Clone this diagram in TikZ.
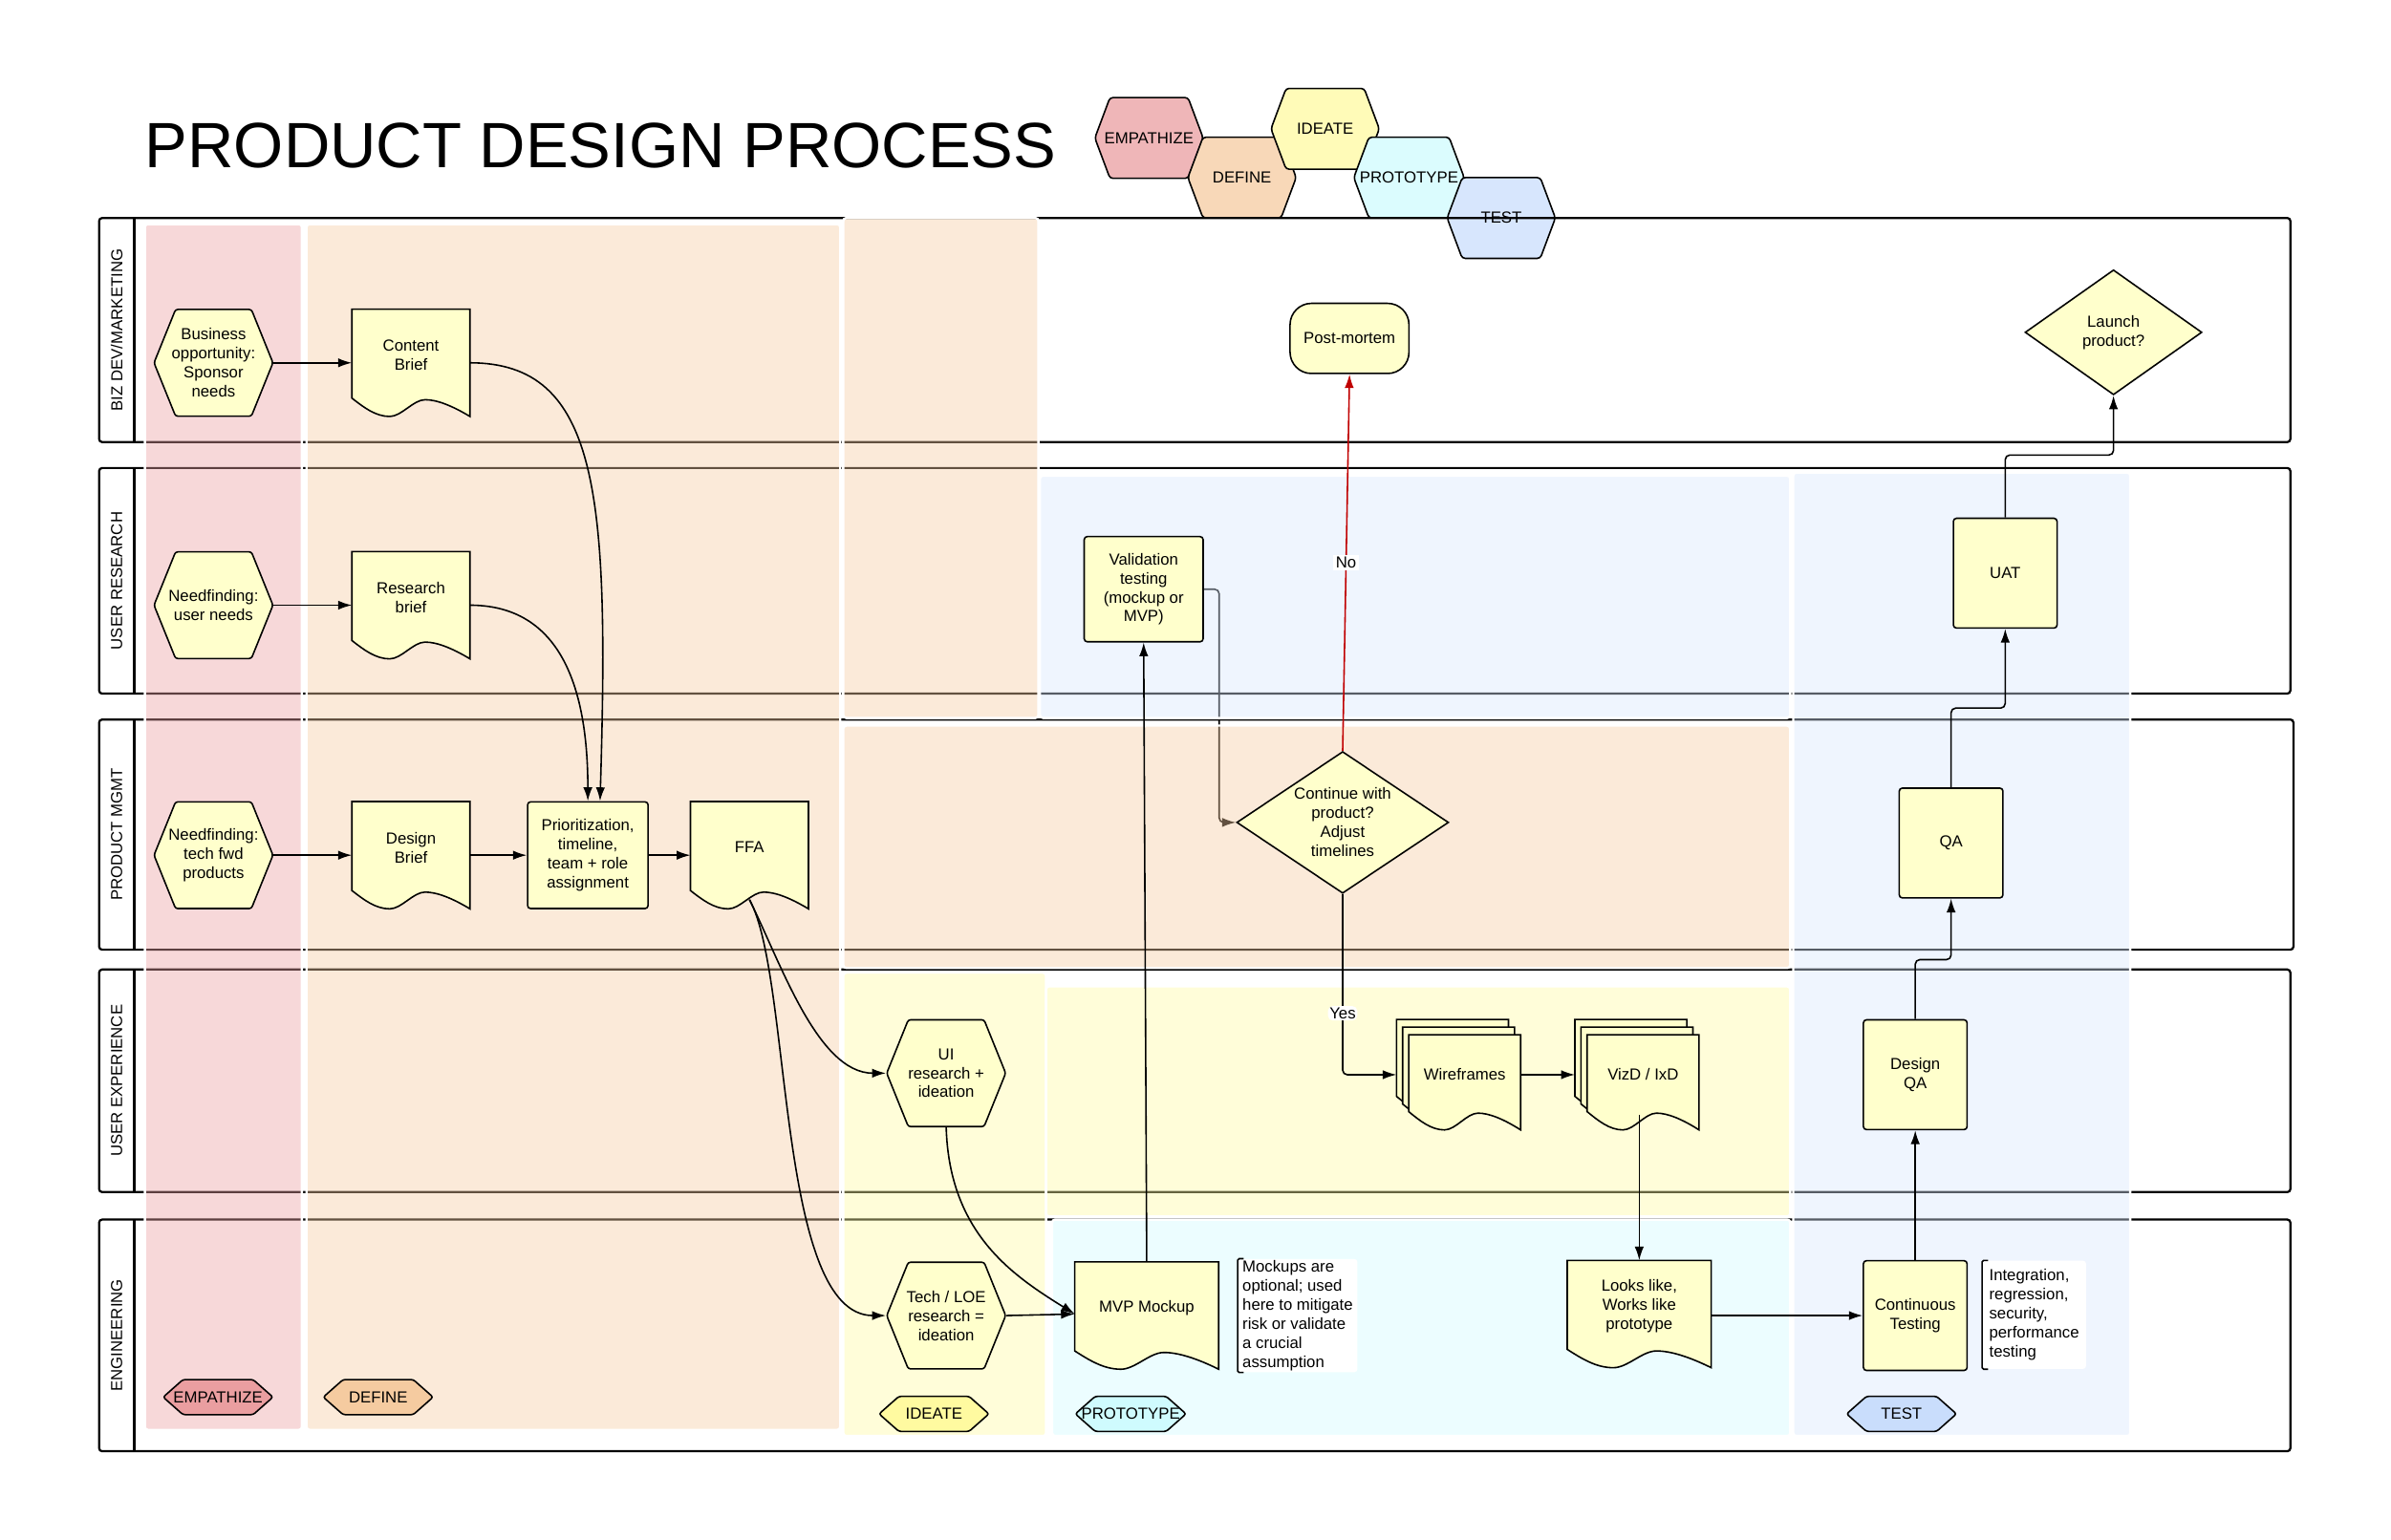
\documentclass[tikz,border=0pt]{standalone}
\usepackage{fontspec}
\setmainfont{Liberation Sans}
\usetikzlibrary{shapes.geometric,shapes.symbols,arrows.meta,calc}
\pgfdeclarelayer{legend}
\pgfdeclarelayer{lanes}
\pgfdeclarelayer{tint}
\pgfdeclarelayer{docs}
\pgfsetlayers{legend,lanes,tint,docs,main}

\definecolor{boxfill}{RGB}{255,255,204}
\definecolor{empcol}{RGB}{234,158,160}
\definecolor{defcol}{RGB}{245,203,160}
\definecolor{ideacol}{RGB}{255,250,160}
\definecolor{protocol}{RGB}{207,251,254}
\definecolor{testcol}{RGB}{201,221,252}
\definecolor{nored}{RGB}{192,0,0}

% document outline with wavy bottom (node, x offset, y offset)
\newcommand{\docpath}[3]{%
  \filldraw[docline]
    ($(#1.north west)+(#2,#3)$) -- ($(#1.north east)+(#2,#3)$) -- ($(#1.south east)+(#2,#3+10)$)
    .. controls ($(#1.south west)!0.85!(#1.south east)+(#2,#3+3)$) and ($(#1.south west)!0.72!(#1.south east)+(#2,#3-1)$) .. ($(#1.south west)!0.62!(#1.south east)+(#2,#3-1)$)
    .. controls ($(#1.south west)!0.52!(#1.south east)+(#2,#3-1)$) and ($(#1.south west)!0.42!(#1.south east)+(#2,#3+10)$) .. ($(#1.south west)!0.32!(#1.south east)+(#2,#3+10)$)
    .. controls ($(#1.south west)!0.2!(#1.south east)+(#2,#3+10)$) and ($(#1.south west)!0.1!(#1.south east)+(#2,#3+4)$) .. ($(#1.south west)+(#2,#3-2)$)
    -- cycle;}

\begin{document}
\begin{tikzpicture}[x=1pt, y=-1pt,
    every node/.style={font=\fontsize{10.5}{12.5}\selectfont, align=center, inner sep=1pt},
    procbox/.style={draw, fill=boxfill, line width=1pt, rounded corners=2, minimum width=68, minimum height=72},
    hexbox/.style={signal, signal to=east and west, signal pointer angle=136, draw, fill=boxfill, line width=1pt, rounded corners=1.5, minimum width=78, minimum height=70, inner ysep=0, inner xsep=-5},
    docbox/.style={minimum width=77, minimum height=60, inner sep=0},
    docline/.style={draw, fill=boxfill, line width=1pt},
    decision/.style={diamond, draw, fill=boxfill, line width=1pt, inner sep=0},
    endbox/.style={draw, fill=boxfill, line width=1pt, rounded corners=14, minimum width=78, minimum height=46},
    notebox/.style={fill=white, rounded corners=2, minimum width=78, minimum height=70, align=left, inner xsep=3},
    bracket/.style={line width=1pt, rounded corners=1},
    flow/.style={line width=1pt, -{Latex[length=9pt,width=6pt]}},
    legendhex/.style={signal, signal to=east and west, signal pointer angle=139, draw, line width=1pt, rounded corners=2, minimum width=71, minimum height=53, inner ysep=0, inner xsep=-6},
    phase/.style={signal, signal to=east and west, signal pointer angle=83, draw, line width=1pt, rounded corners=1.5, minimum width=72, minimum height=23, inner ysep=0, inner xsep=-9},
    lanebox/.style={line width=1.4pt, rounded corners=2},
    lanelabel/.style={rotate=90},
    phasetint/.style={draw=white, line width=1.5pt, fill opacity=0.4, rounded corners=2}]

    \useasboundingbox (0,0) rectangle (1568,1010);

    % Title and phase legend
    \node[font=\fontsize{42}{42}\selectfont, anchor=base west, inner sep=0] (title) at (95,110) {PRODUCT DESIGN PROCESS};
    \begin{pgfonlayer}{legend}
    \node[legendhex, fill=empcol!75] (legemp) at (753.5,90.5) {EMPATHIZE};
    \node[legendhex, fill=defcol!75] (legdef) at (814.5,116.5) {DEFINE};
    \node[legendhex, fill=ideacol!75] (legidea) at (869,84.5) {IDEATE};
    \node[legendhex, fill=protocol!75] (legproto) at (924,116.5) {PROTOTYPE};
    \node[legendhex, fill=testcol!75] (legtest) at (984.5,143) {TEST};
    \end{pgfonlayer}

    % Swim lanes
    \begin{pgfonlayer}{lanes}
    \foreach \ya/\yb/\xr/\lname [count=\k] in {143/290/1502/{BIZ DEV/MARKETING}, 307/455/1502/USER RESEARCH, 472/623/1504/PRODUCT MGMT, 636/782/1502/USER EXPERIENCE, 800/952/1502/ENGINEERING} {
        \draw[lanebox] (65,\ya) rectangle (\xr,\yb);
        \draw[lanebox] (88,\ya) -- (88,\yb);
        \node[lanelabel] (lane\k) at (76.5,{(\ya+\yb)/2}) {\lname};
    }
    \end{pgfonlayer}

    % Phase columns
    \begin{pgfonlayer}{tint}
    \draw[phasetint, fill=empcol] (95,147) rectangle (198,938);
    \draw[phasetint, fill=defcol] (201,147) rectangle (551,938);
    \draw[phasetint, fill=defcol] (553,143) rectangle (681,471);
    \draw[phasetint, fill=defcol] (553,476) rectangle (1174,635);
    \draw[phasetint, fill=ideacol] (553,638) rectangle (686,942);
    \draw[phasetint, fill=ideacol] (686,647) rectangle (1174,798);
    \draw[phasetint, fill=testcol!75] (682,312) rectangle (1174,471);
    \draw[phasetint, fill=protocol] (690,800) rectangle (1174,942);
    \draw[phasetint, fill=testcol!75] (1176,310) rectangle (1397,942);
    \end{pgfonlayer}

    % Biz dev / marketing
    \node[hexbox] (bizopp) at (140,238) {Business\\opportunity:\\Sponsor\\needs};
    \node[docbox] (cbrief) at (269.5,233) {Content\\Brief};
    \node[endbox] (postm) at (885,222) {Post-mortem};
    \node[decision, aspect=1.41, minimum width=116, minimum height=82] (launch) at (1386,218) {Launch\\product?};

    % User research
    \node[hexbox] (usrneed) at (140,397) {Needfinding:\\user needs};
    \node[docbox] (rbrief) at (269.5,392) {Research\\brief};
    \node[procbox, minimum width=78, minimum height=69] (valid) at (750,386.5) {Validation\\testing\\(mockup or\\MVP)};
    \node[procbox] (uat) at (1315,376) {UAT};

    % Product mgmt
    \node[hexbox] (techfwd) at (140,561) {Needfinding:\\tech fwd\\products};
    \node[docbox] (dbrief) at (269.5,556) {Design\\Brief};
    \node[procbox, minimum width=79, minimum height=70] (prio) at (385.5,561) {Prioritization,\\timeline,\\team + role\\assignment};
    \node[docbox] (ffa) at (491.5,556) {FFA};
    \node[decision, aspect=1.5, minimum width=139, minimum height=93] (cont) at (880.5,539.5) {Continue with\\product?\\Adjust\\timelines};
    \node[procbox] (qa) at (1279.5,553) {QA};

    % User experience
    \node[hexbox] (uires) at (620.5,704) {UI\\research +\\ideation};
    \node[docbox, minimum width=73, minimum height=52] (wire) at (960.5,705) {Wireframes};
    \node[docbox, minimum width=73, minimum height=52] (vizd) at (1077.5,705) {VizD / IxD};
    \node[procbox] (dqa) at (1256,705) {Design\\QA};

    % Engineering
    \node[hexbox] (techloe) at (620.5,863) {Tech / LOE\\research =\\ideation};
    \node[docbox, minimum width=94] (mvp) at (752,858) {MVP Mockup};
    \node[notebox] (mocknote) at (851,863) {Mockups are\\optional; used\\here to mitigate\\risk or validate\\a crucial\\assumption};
    \node[docbox, minimum width=94] (looks) at (1075,857) {Looks like,\\Works like\\prototype};
    \node[procbox] (ctest) at (1256,863) {Continuous\\Testing};
    \node[notebox, minimum width=68, minimum height=71] (testnote) at (1334,862.5) {Integration,\\regression,\\security,\\performance\\testing};

    % Phase tags
    \node[phase, fill=empcol] (tagemp) at (143,916.5) {EMPATHIZE};
    \node[phase, fill=defcol] (tagdef) at (248,916.5) {DEFINE};
    \node[phase, fill=ideacol] (tagidea) at (612.5,927.5) {IDEATE};
    \node[phase, fill=protocol] (tagproto) at (741.5,927.5) {PROTOTYPE};
    \node[phase, fill=testcol] (tagtest) at (1247,927.5) {TEST};

    % Document outlines
    \begin{pgfonlayer}{docs}
    \foreach \d in {cbrief,rbrief,dbrief,ffa,mvp,looks} {\docpath{\d}{0}{0}}
    \foreach \d in {wire,vizd} {\docpath{\d}{-8}{-10} \docpath{\d}{-4}{-5} \docpath{\d}{0}{0}}
    \end{pgfonlayer}

    % Note brackets
    \draw[bracket] ([xshift=4]mocknote.north west) -- (mocknote.north west) -- (mocknote.south west) -- ([xshift=4]mocknote.south west);
    \draw[bracket] ([xshift=4]testnote.north west) -- (testnote.north west) -- (testnote.south west) -- ([xshift=4]testnote.south west);

    % Empathize / define flow
    \draw[flow] (bizopp.east) -- (bizopp.east -| cbrief.west);
    \draw[flow] (usrneed.east) -- (usrneed.east -| rbrief.west);
    \draw[flow] (techfwd.east) -- (techfwd.east -| dbrief.west);
    \draw[flow] ([yshift=-5]cbrief.east) .. controls +(85,0) and +(6,-200) .. ([xshift=8]prio.north);
    \draw[flow] ([yshift=-5]rbrief.east) .. controls +(50,0) and +(0,-90) .. (prio.north);
    \draw[flow] (prio.west -| dbrief.east) -- (prio.west);
    \draw[flow] (prio.east) -- (prio.east -| ffa.west);

    % Ideate flow
    \draw[flow] ([yshift=-4]ffa.south) .. controls +(20,40) and +(-45,0) .. (uires.west);
    \draw[flow] ([yshift=-4]ffa.south) .. controls +(28,50) and +(-72,0) .. (techloe.west);
    \draw[flow] (uires.south) .. controls +(2,70) and +(-40,-25) .. ([yshift=-4]mvp.west);
    \draw[flow] (techloe.east) -- ([yshift=-4]mvp.west);

    % Prototype flow
    \draw[flow] (mvp.north) -- (valid.south);
    \begin{pgfonlayer}{lanes}
    \draw[flow, rounded corners=3] (valid.east) -- ++(10,0) |- (cont.west);
    \end{pgfonlayer}
    \draw[flow, draw=nored] (cont.north) -- node[pos=0.5, fill=white, inner sep=1.5] (nolbl) {No} (postm.south);
    \draw[flow, rounded corners=3] (cont.south) |- node[pos=0.33, fill=white, inner sep=1] (yeslbl) {Yes} ([xshift=-8]wire.west);
    \draw[flow] (wire.east) -- ([xshift=-8]vizd.west);
    \draw[flow] (vizd.south -| looks.north) -- (looks.north);

    % Test flow
    \draw[flow] (looks.east |- ctest.west) -- (ctest.west);
    \draw[flow] (ctest.north) -- (dqa.south);
    \draw[flow, rounded corners=3] (dqa.north) -- ++(0,-39) -| (qa.south);
    \draw[flow, rounded corners=3] (qa.north) -- ++(0,-52) -| (uat.south);
    \draw[flow, rounded corners=3] (uat.north) -- ++(0,-41) -| (launch.south);
\end{tikzpicture}
\end{document}
